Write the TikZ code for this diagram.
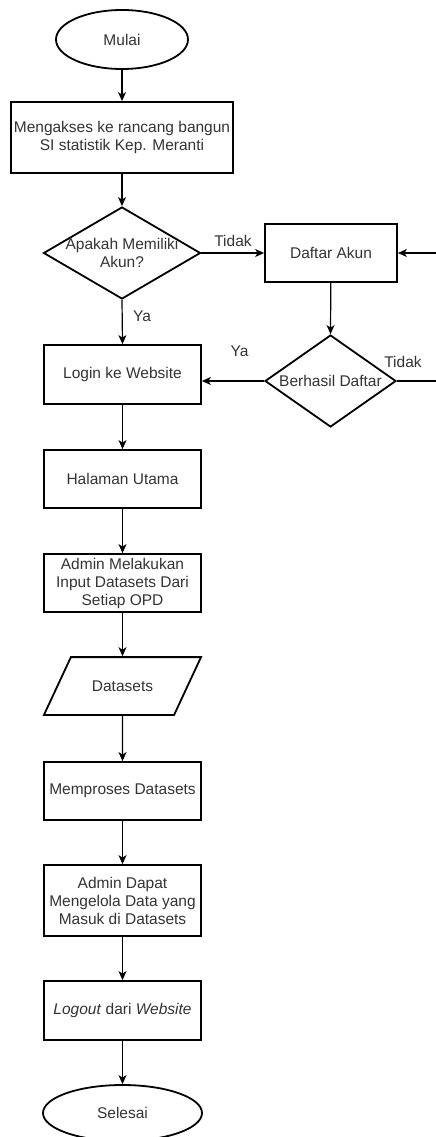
\documentclass[tikz,border=0pt]{standalone}
\usepackage{fontspec}
\setmainfont{Liberation Sans}
\usetikzlibrary{arrows.meta,shapes.geometric}

\begin{document}
\begin{tikzpicture}[x=1pt,y=1pt]
		\tikzset{every node/.style = {font=\fontsize{15.5}{18}\selectfont, text=black!80}}
		\tikzset{box/.style = {draw,line width=1.8pt,rectangle,minimum width=157pt,minimum height=58pt,inner sep=0pt,align=center}}
		\tikzset{terminal/.style = {draw,line width=1.8pt,ellipse,inner sep=0pt}}
		\tikzset{decision/.style = {draw,line width=1.8pt,diamond,inner sep=0pt,minimum width=157pt,minimum height=92pt}}
		\tikzset{data/.style = {draw,line width=1.8pt,trapezium,trapezium left angle=65,trapezium right angle=115,inner xsep=21pt,inner ysep=23.5pt}}
		\tikzset{func/.style = {->,line width=1.2pt,> = {Stealth[length=9pt,width=8pt,inset=2.5pt]}}}

		\useasboundingbox (0,0) rectangle (436,-1137);

		% nodes
		\node[terminal,minimum width=132pt,minimum height=59pt] (mulai) at (122,-39.5){Mulai};
		\node[box,minimum width=222pt,minimum height=71pt] (akses) at (122,-137.5){Mengakses ke rancang bangun\\SI statistik Kep. Meranti};
		\node[decision,label={[align=center]center:Apakah Memiliki\\Akun?}] (akun) at (122,-253){};
		\node[box,minimum width=132pt] (daftar) at (331,-253){Daftar Akun};
		\node[decision,minimum width=131pt,label={center:Berhasil Daftar}] (berhasil) at (330.5,-381){};
		\node[box,minimum height=59pt] (login) at (122.5,-374.5){Login ke Website};
		\node[box] (utama) at (122.5,-479){Halaman Utama};
		\node[box] (input) at (122.5,-583){Admin Melakukan\\Input Datasets Dari\\Setiap OPD};
		\node[data] (datasets) at (122.5,-686){Datasets};
		\node[box] (olah) at (122.5,-791){Memproses Datasets};
		\node[box,minimum height=71pt] (kelola) at (122.5,-900.5){Admin Dapat\\Mengelola Data yang\\Masuk di Datasets};
		\node[box,minimum height=59pt] (logout) at (122.5,-1010.5){\textit{Logout} dari \textit{Website}};
		\node[terminal,minimum width=159pt,minimum height=56pt] (selesai) at (122.5,-1113){Selesai};

		\coordinate (kanan1) at (440,-253);
		\coordinate (kanan2) at (440,-381);

		% labels
		\node (tidak1) at (233,-241){Tidak};
		\node (ya1) at (142,-316){Ya};
		\node (ya2) at (239.5,-351){Ya};
		\node (tidak2) at (403,-362){Tidak};

		% arrows
		\draw[func] (mulai) -- (akses);
		\draw[func] (akses) -- (akun);
		\draw[func] (akun.east) -- (daftar.west);
		\draw[func] (akun.south) -- (login.north);
		\draw[func] (daftar) -- (berhasil.north);
		\draw[func] (berhasil.west) -- (berhasil.west -| login.east);
		\draw[line width=1.2pt] (berhasil.east) -- (kanan2);
		\draw[func] (kanan1) -- (daftar.east);
		\draw[func] (login) -- (utama);
		\draw[func] (utama) -- (input);
		\draw[func] (input) -- (datasets);
		\draw[func] (datasets) -- (olah);
		\draw[func] (olah) -- (kelola);
		\draw[func] (kelola) -- (logout);
		\draw[func] (logout) -- (selesai);
\end{tikzpicture}
\end{document}
